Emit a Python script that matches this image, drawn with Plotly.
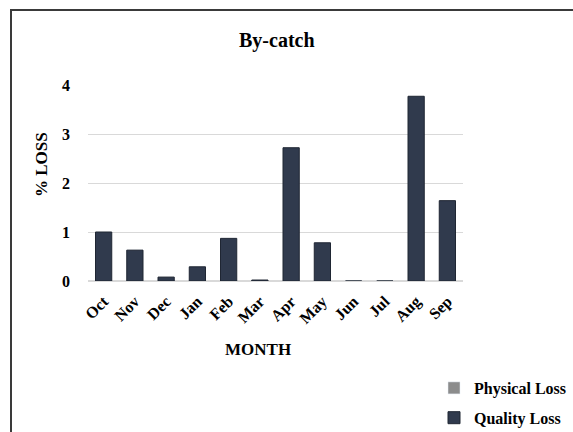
import plotly.graph_objects as go

months = ["Oct", "Nov", "Dec", "Jan", "Feb", "Mar", "Apr", "May", "Jun", "Jul", "Aug", "Sep"]
physical_loss = [0, 0, 0, 0, 0, 0, 0, 0, 0, 0, 0, 0]
quality_loss = [1.0, 0.63, 0.08, 0.29, 0.87, 0.02, 2.72, 0.78, 0.0, 0.0, 3.77, 1.64]
y_ticks = [0, 1, 2, 3, 4]

W, H = 573, 432
L, R, T, B = 88, 463, 85, 281  # plot area in pixels
FONT = "Liberation Serif, Times New Roman, serif"

def px(x):
    return (x - L) / (R - L)

def py(y):
    return (B - y) / (B - T)

fig = go.Figure()
fig.add_trace(go.Bar(x=months, y=physical_loss, name="<b>Physical Loss</b>",
                     marker=dict(color="#8c8c8c"), width=0.52, legendgroup="p"))
fig.add_trace(go.Bar(x=months, y=quality_loss, name="<b>Quality Loss</b>",
                     marker=dict(color="#303a4d", line=dict(color="#1f2633", width=1)),
                     width=0.52, legendgroup="q"))

fig.update_layout(
    width=W, height=H,
    margin=dict(l=L, r=W - R, t=T, b=H - B, autoexpand=False),
    paper_bgcolor="white", plot_bgcolor="white",
    barmode="overlay",
    font=dict(family=FONT, color="black"),
    showlegend=True,
    legend=dict(x=px(434), y=py(371), xanchor="left", yanchor="top",
                font=dict(size=16, family=FONT, color="black"),
                traceorder="grouped", tracegroupgap=6, bgcolor="rgba(0,0,0,0)"),
    xaxis=dict(type="category", tickangle=-45, showgrid=False, showline=False,
               ticks="", tickfont=dict(size=16, family=FONT, color="black", weight="bold"),
               ticklabelstandoff=7),
    yaxis=dict(range=[0, 4], tickvals=y_ticks, showgrid=True, gridcolor="#d9d9d9",
               gridwidth=1, zeroline=True, zerolinecolor="#d9d9d9", showline=False,
               ticks="", tickfont=dict(size=16, family=FONT, color="black", weight="bold"),
               ticklabelstandoff=17),
    shapes=[dict(type="rect", xref="paper", yref="paper",
                 x0=px(11), x1=px(620), y0=py(10), y1=py(470),
                 line=dict(color="#3a3a3a", width=2), fillcolor="rgba(0,0,0,0)", layer="below")],
    annotations=[
        dict(text="<b>By-catch</b>", x=px(277), y=py(40), xref="paper", yref="paper",
             showarrow=False, font=dict(size=20, family=FONT, color="black"),
             xanchor="center", yanchor="middle"),
        dict(text="<b>MONTH</b>", x=px(258), y=py(349), xref="paper", yref="paper",
             showarrow=False, font=dict(size=17, family=FONT, color="black"),
             xanchor="center", yanchor="middle"),
        dict(text="<b>% LOSS</b>", x=px(41), y=py(165), xref="paper", yref="paper",
             showarrow=False, textangle=-90, font=dict(size=17, family=FONT, color="black"),
             xanchor="center", yanchor="middle"),
    ],
)

fig.write_html("out.html")
